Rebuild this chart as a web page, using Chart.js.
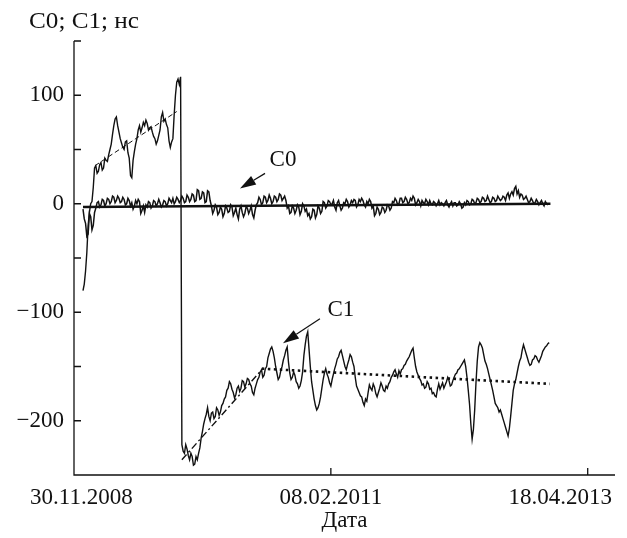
<!DOCTYPE html>
<html>
<head>
<meta charset="utf-8">
<script src="https://cdn.jsdelivr.net/npm/chart.js@4/dist/chart.umd.min.js"></script>
<style>
  html, body { margin: 0; padding: 0; background: #fff; }
  #wrap { width: 627px; height: 538px; position: relative; }
</style>
</head>
<body>
<div id="wrap"><canvas id="chart" width="627" height="538"></canvas></div>
<script>
// Time axis: days counted from 30.11.2008
const xTickDays = [0, 800, 1600];
const xTickLabels = ['30.11.2008', '08.02.2011', '18.04.2013'];
const xMaxDay = 1685;

// Value axis, ns
const yMin = -250, yMax = 150, yStep = 50;
const yLabelledTicks = [100, 0, -100, -200];

// Both series are sampled on the same grid: every 4 days starting at day 28
const sampleStartDay = 28;
const sampleStepDays = 4;

// C0, ns
const c0Values = [
  -5, -14, -18, -30, -28, -9, -12, -24, -20, -8, -4, 1,
  2, -3, -1, 4, 3, -2, 0, 5, 4, 0, 2, 7, 6, 1, 3, 7, 5, 1,
  2, 6, 4, -1, 0, 5, 3, -2, 1, -5, -2, 3, 0, 4, 2, -9, -6, -2, -8, -1,
  -3, 2, 1, -4, -2, 3, 2, -2, 0, 4, 1, -3, -1, 3, 2, -2, 0, 5, 3, 1, 5, 0, 2, 6, 4, 1,
  3, 7, 5, 1, 2, 8, 6, 2, 4, 9, 8, 2, 3, 13, 12, 4, 5, 11, 10, 1, 2, 12, 11, 3,
  -2, -9, -6, -1, -3, -10, -8, -3, -5, -12, -9, -2, -4, -8, -7, -1, -3, -11, -8, -4,
  -10, -14, -5, -2, -8, -12, -9, -3, -4, -9, -6, -2, -10, -13, -6, -1, 1, 6,
  4, -1, 1, 7, 6, 1, 3, 8, 5, 0, 2, 7, 6, 2, 4, 9, 8, 3, 5, 7, 3, -4, -2, -9,
  -8, -2, -4, -9, -6, -1, -3, -10, -7, 0, -2, -7, -5, -11, -9, -14,
  -12, -5, -6, -13, -10, -2, -4, -9, -7, 2, 1, -4, -2, 3, 2, -1,
  0, 3, -3, -6, 1, 3, -2, -6, -4, 1, 0, 4, 2, -3, -1, 3, 1, 4, 3, -3, -1, 4, 2, 5,
  3, -1, -3, 2, 0, 4, 2, -4, -2, -11, -9, -3, -5, -10,
  -8, -3, -4, -8, -6, -1, -2, -6, -4, 2, 1, 5, 3, -1, 0, 5,
  5, 1, 2, 6, 4, 0, 1, 5, 3, 7, 5, -1, 1, 4, 2, -2, 3, 1, 0, 4, 2, -1, 3, 0, -1, 2, 1, -2, 0, 3, -1, 1,
  0, -2, 1, 3, -1, -3, 0, 2, -2, 1, 1, -2, -1, 2, 0, -4, -3, 1, -1, 3, 2, -1, 0, 4,
  3, 0, 1, 5, 4, 1, 2, 6, 5, 2, 3, 7, 4, 1, 2, 6, 5, 2, 3, 7, 5, 3,
  4, 7, 6, 3, 8, 10, 5, 9, 11, 8, 14, 16, 9, 12,
  6, 9, 8, 4, 5, 7, 4, 1, 2, 5, 3, 0, 1, 4, 2, -1, 1, 3, 0, -2, 2, 0, -1
];

// C1, ns
const c1Values = [
  -80, -74, -62, -45, -20, -8, 0, 2, 15, 33,
  35, 28, 30, 36, 38, 31, 33, 42, 40, 39,
  45, 50, 55, 64, 72, 78, 80, 72, 66, 60,
  56, 52, 50, 57, 58, 47, 42, 26, 24, 40,
  48, 55, 60, 68, 72, 66, 70, 75, 72, 77,
  74, 68, 70, 71, 66, 62, 60, 55, 58, 63,
  68, 80, 84, 76, 78, 73, 70, 58, 52, 57,
  60, 82, 100, 112, 115, 110, 117,
  -222, -228, -230, -222, -226, -232, -236, -230, -233, -241, -240, -233, -236, -230, -225, -216, -210, -203, -198, -194,
  -188, -196, -200, -193, -192, -198, -196, -188, -190, -195, -192, -186, -184, -180, -178, -172, -170, -164, -166, -171,
  -174, -179, -176, -170, -168, -173, -170, -163, -164, -169, -166, -161, -162, -166, -168, -174, -176, -170, -166, -162,
  -160, -155, -153, -160, -158, -152, -150, -142, -138, -134, -132, -136, -142, -150, -156, -162, -160, -154, -150, -144,
  -140, -135, -132, -146, -156, -162, -160, -155, -158, -164, -166, -170, -168, -163, -155, -140, -130, -122, -118, -134,
  -150, -164, -172, -180, -186, -190, -188, -184, -178, -170, -162, -156, -152, -157, -160, -165, -168, -162, -157, -152,
  -148, -143, -141, -137, -135, -140, -145, -150, -153, -148, -144, -139, -141, -146, -150, -160, -168, -171, -174, -177,
  -178, -183, -186, -180, -182, -174, -167, -170, -172, -166, -169, -175, -178, -174, -170, -165, -168, -172, -173, -168,
  -170, -166, -164, -160, -158, -155, -153, -157, -160, -154, -157, -153, -152, -149, -148, -145, -143, -141, -138, -135,
  -133, -142, -150, -155, -158, -161, -163, -167, -166, -170, -169, -164, -166, -171, -170, -175, -174, -177, -178, -171,
  -166, -171, -168, -165, -170, -167, -164, -160, -163, -168, -167, -163, -160, -157, -156, -153, -152, -150, -148, -146,
  -144, -150, -160, -172, -185, -203, -217, -208, -190, -165, -145, -132, -128, -130, -133, -139, -145, -148, -152, -157,
  -162, -167, -172, -178, -184, -186, -188, -192, -190, -194, -198, -202, -206, -210, -214, -207, -196, -184, -172, -166,
  -162, -156, -150, -145, -142, -135, -130, -134, -138, -142, -146, -149, -148, -144, -143, -140, -141, -144, -146, -143,
  -140, -136, -134, -132, -131, -129, -128
];

// Linear trends: [day, ns]
const c0Trend = [[28, -3], [1484, 0]];
const c1TrendEarly = [[65, 35], [320, 85]];
const c1TrendRecovery = [[336, -236], [585, -153]];
const c1TrendLate = [[585, -152], [1482, -166]];

// Callouts: label position, arrow start, arrow tip (day, ns)
const callouts = [
  { text: 'C0', label: [651, 40], from: [595, 28], to: [517, 14] },
  { text: 'C1', label: [831, -98], from: [766, -106], to: [651, -128.5] }
];

const headerText = 'C0; C1; нс';
const xTitle = 'Дата';

const INK = '#111';
const FONT = '"Liberation Serif", "Times New Roman", serif';
const FONT_SIZE = 23;

function toPoints(values) {
  return values.map((v, i) => ({ x: sampleStartDay + i * sampleStepDays, y: v }));
}
function pairs(arr) {
  return arr.map(p => ({ x: p[0], y: p[1] }));
}

const axesPlugin = {
  id: 'insideAxes',
  afterDraw(chart) {
    const ctx = chart.ctx;
    const xs = chart.scales.x, ys = chart.scales.y;
    const left = xs.getPixelForValue(0);
    const right = xs.getPixelForValue(xMaxDay);
    const top = ys.getPixelForValue(yMax);
    const bottom = ys.getPixelForValue(yMin);
    ctx.save();
    ctx.strokeStyle = INK;
    ctx.lineWidth = 1.3;
    ctx.beginPath();
    ctx.moveTo(left, top);
    ctx.lineTo(left, bottom);
    ctx.lineTo(right, bottom);
    // inward ticks on the value axis
    for (let v = yMin + yStep; v <= yMax; v += yStep) {
      const py = ys.getPixelForValue(v);
      ctx.moveTo(left, py);
      ctx.lineTo(left + 7, py);
    }
    // inward ticks on the time axis
    xTickDays.forEach(d => {
      if (d === 0) return;
      const px = xs.getPixelForValue(d);
      ctx.moveTo(px, bottom);
      ctx.lineTo(px, bottom - 7);
    });
    ctx.stroke();

    ctx.fillStyle = INK;
    ctx.font = FONT_SIZE + 'px ' + FONT;

    // time labels, kept inside the canvas at both ends
    ctx.textAlign = 'left';
    ctx.textBaseline = 'middle';
    xTickDays.forEach((d, i) => {
      const w = ctx.measureText(xTickLabels[i]).width;
      let lx = xs.getPixelForValue(d) - w / 2;
      lx = Math.max(30, Math.min(lx, chart.width - 15 - w));
      ctx.fillText(xTickLabels[i], lx, 498);
    });

    // header, set slightly condensed
    ctx.textBaseline = 'alphabetic';
    const hw = ctx.measureText(headerText).width;
    ctx.save();
    ctx.translate(29, 28);
    ctx.scale(110 / hw, 1);
    ctx.fillText(headerText, 0, 0);
    ctx.restore();

    // callouts
    callouts.forEach(c => {
      const lx = xs.getPixelForValue(c.label[0]), ly = ys.getPixelForValue(c.label[1]);
      ctx.textAlign = 'center';
      ctx.textBaseline = 'middle';
      ctx.fillText(c.text, lx, ly);
      const x0 = xs.getPixelForValue(c.from[0]), y0 = ys.getPixelForValue(c.from[1]);
      const x1 = xs.getPixelForValue(c.to[0]), y1 = ys.getPixelForValue(c.to[1]);
      const ang = Math.atan2(y1 - y0, x1 - x0);
      const headLen = 16, headHalf = 5;
      const bx = x1 - headLen * Math.cos(ang), by = y1 - headLen * Math.sin(ang);
      ctx.lineWidth = 1.2;
      ctx.beginPath();
      ctx.moveTo(x0, y0);
      ctx.lineTo(bx, by);
      ctx.stroke();
      ctx.beginPath();
      ctx.moveTo(x1, y1);
      ctx.lineTo(bx + headHalf * Math.sin(ang), by - headHalf * Math.cos(ang));
      ctx.lineTo(bx - headHalf * Math.sin(ang), by + headHalf * Math.cos(ang));
      ctx.closePath();
      ctx.fill();
    });
    ctx.restore();
  }
};

const lineBase = { pointRadius: 0, pointHoverRadius: 0, tension: 0, fill: false, borderColor: INK };

new Chart(document.getElementById('chart'), {
  type: 'line',
  data: {
    datasets: [
      Object.assign({ label: 'C1', data: toPoints(c1Values), borderWidth: 1.4 }, lineBase),
      Object.assign({ label: 'C0', data: toPoints(c0Values), borderWidth: 1.5 }, lineBase),
      Object.assign({ label: 'C0 trend', data: pairs(c0Trend), borderWidth: 2.6 }, lineBase),
      Object.assign({ label: 'C1 trend 1', data: pairs(c1TrendEarly), borderWidth: 1, borderDash: [5, 3] }, lineBase),
      Object.assign({ label: 'C1 trend 2', data: pairs(c1TrendRecovery), borderWidth: 1.4, borderDash: [7, 3, 2, 3] }, lineBase),
      Object.assign({ label: 'C1 trend 3', data: pairs(c1TrendLate), borderWidth: 2.6, borderDash: [2.5, 3.5] }, lineBase)
    ]
  },
  options: {
    responsive: false,
    animation: false,
    events: [],
    layout: { padding: { left: 0, right: 12, top: 41, bottom: 0 } },
    plugins: { legend: { display: false }, tooltip: { enabled: false } },
    scales: {
      x: {
        type: 'linear',
        min: 0,
        max: xMaxDay,
        afterBuildTicks(scale) { scale.ticks = xTickDays.map(v => ({ value: v })); },
        afterFit(scale) { scale.height = 63; scale.paddingLeft = 0; scale.paddingRight = 0; },
        grid: { display: false, drawTicks: false },
        border: { display: false },
        ticks: { display: false },
        title: {
          display: true,
          text: xTitle,
          color: INK,
          font: { family: FONT, size: FONT_SIZE },
          padding: { top: 0, bottom: 3 }
        }
      },
      y: {
        type: 'linear',
        min: yMin,
        max: yMax,
        afterFit(scale) { scale.width = 74; },
        grid: { display: false, drawTicks: false },
        border: { display: false },
        ticks: {
          stepSize: yStep,
          autoSkip: false,
          padding: 10,
          color: INK,
          font: { family: FONT, size: FONT_SIZE },
          callback(v) {
            if (!yLabelledTicks.includes(v)) return '';
            return v < 0 ? '\u2212' + Math.abs(v) : String(v);
          }
        }
      }
    }
  },
  plugins: [axesPlugin]
});
</script>
</body>
</html>
